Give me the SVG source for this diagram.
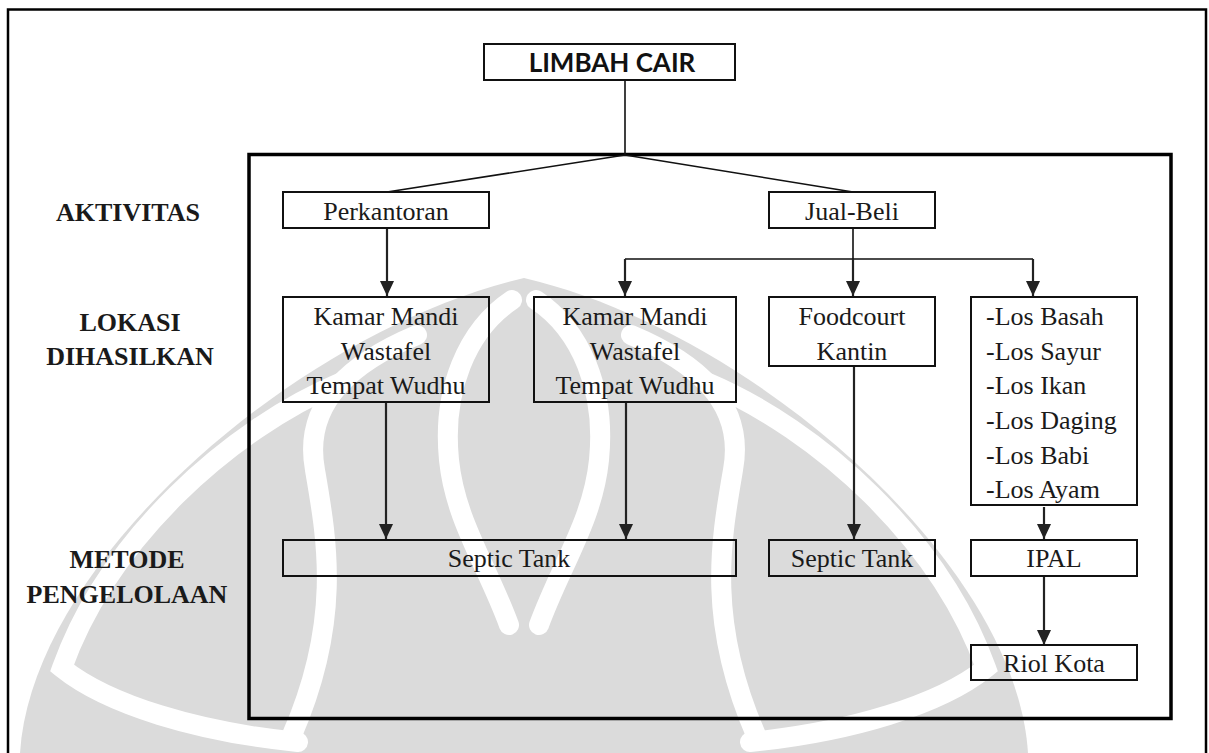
<svg xmlns="http://www.w3.org/2000/svg" width="1209" height="753" viewBox="0 0 1209 753">
  <defs>
    <style>
      .box { fill: none; stroke: #111; stroke-width: 2; }
      .t { font-size: 26px; fill: #1a1a1a; }
      .c { text-anchor: middle; }
      .lbl { font-size: 26px; font-weight: bold; fill: #1a1a1a; text-anchor: middle; }
      .head { font-size: 26px; font-weight: bold; fill: #111; text-anchor: middle; }
      .ln { fill: none; stroke: #111; stroke-width: 1.6; }
      .arr { fill: none; stroke: #222; stroke-width: 2.2; marker-end: url(#ah); }
      .wm { fill: #dbdbdb; }
      .gap { fill: none; stroke: #fff; stroke-width: 20; stroke-linecap: round; }
    </style>
    <marker id="ah" viewBox="0 0 15 14" refX="15" refY="7" markerWidth="15" markerHeight="14" markerUnits="userSpaceOnUse" orient="auto">
      <path d="M0,0 L15,7 L0,14 Z" fill="#222"/>
    </marker>
  </defs>

  <rect width="1209" height="753" fill="#fff"/>

  <!-- faint emblem in the background -->
  <g id="emblem">
    <path class="wm" d="M20,753 C32,560 300,330 524,278 C748,330 1016,560 1028,753 Z"/>
    <g id="emblem-half">
      <path class="gap" d="M342,382 C228,430 108,540 62,668 C108,705 198,732 298,742"/>
      <path class="gap" d="M417,335 C357,360 302,400 315,470 C327,540 342,620 292,735"/>
      <path class="gap" d="M512,300 C467,330 442,390 449,460 C455,520 487,565 509,625"/>
    </g>
    <use href="#emblem-half" transform="translate(1048,0) scale(-1,1)"/>
  </g>

  <!-- page frame and activity frame -->
  <rect x="8" y="9.5" width="1198" height="760" fill="none" stroke="#000" stroke-width="2.5"/>
  <rect x="249" y="154.5" width="922" height="564" fill="none" stroke="#000" stroke-width="3.5"/>

  <!-- row labels -->
  <g id="labels">
    <text class="lbl" x="128" y="221" font-family="Liberation Serif">AKTIVITAS</text>
    <text class="lbl" x="130" y="331" font-family="Liberation Serif">LOKASI</text>
    <text class="lbl" x="130" y="365" font-family="Liberation Serif">DIHASILKAN</text>
    <text class="lbl" x="127" y="568" font-family="Liberation Serif">METODE</text>
    <text class="lbl" x="127" y="603" font-family="Liberation Serif">PENGELOLAAN</text>
  </g>

  <!-- connectors -->
  <g id="connectors">
    <path class="ln" d="M625,80 V155 M625,155 L387,192 M625,155 L853,192"/>
    <path class="arr" d="M387,228 V296"/>
    <path class="ln" d="M853,228 V259 M625,259 H1033"/>
    <path class="arr" d="M625,259 V296"/>
    <path class="arr" d="M853,259 V296"/>
    <path class="arr" d="M1033,259 V296"/>
    <path class="arr" d="M386,402 V539"/>
    <path class="arr" d="M626,402 V539"/>
    <path class="arr" d="M854,366 V539"/>
    <path class="arr" d="M1044,507 V539"/>
    <path class="arr" d="M1044,576 V645"/>
  </g>

  <g id="limbah-cair">
    <rect class="box" x="484" y="44" width="251" height="36"/>
    <text class="head" x="612" y="72" font-family="Lato">LIMBAH CAIR</text>
  </g>

  <g id="nodes">
    <g id="perkantoran">
      <rect class="box" x="283" y="192" width="206" height="36"/>
      <text class="t c" x="386" y="220" font-family="Liberation Serif">Perkantoran</text>
    </g>

    <g id="jual-beli">
      <rect class="box" x="769" y="192" width="166" height="36"/>
      <text class="t c" x="852" y="220" font-family="Liberation Serif">Jual-Beli</text>
    </g>

    <g id="kamar-mandi-1">
      <rect class="box" x="283" y="297" width="206" height="105"/>
      <text class="t c" x="386" y="325" font-family="Liberation Serif">Kamar Mandi</text>
      <text class="t c" x="386" y="359.5" font-family="Liberation Serif">Wastafel</text>
      <text class="t c" x="386" y="394" font-family="Liberation Serif">Tempat Wudhu</text>
    </g>

    <g id="kamar-mandi-2">
      <rect class="box" x="534" y="297" width="202" height="105"/>
      <text class="t c" x="635" y="325" font-family="Liberation Serif">Kamar Mandi</text>
      <text class="t c" x="635" y="359.5" font-family="Liberation Serif">Wastafel</text>
      <text class="t c" x="635" y="394" font-family="Liberation Serif">Tempat Wudhu</text>
    </g>

    <g id="foodcourt">
      <rect class="box" x="769" y="297" width="166" height="69"/>
      <text class="t c" x="852" y="325" font-family="Liberation Serif">Foodcourt</text>
      <text class="t c" x="852" y="359.5" font-family="Liberation Serif">Kantin</text>
    </g>

    <g id="los">
      <rect class="box" x="971" y="297" width="166" height="208"/>
      <text class="t" x="986" y="325" font-family="Liberation Serif">-Los Basah</text>
      <text class="t" x="986" y="359.7" font-family="Liberation Serif">-Los Sayur</text>
      <text class="t" x="986" y="394.3" font-family="Liberation Serif">-Los Ikan</text>
      <text class="t" x="986" y="429" font-family="Liberation Serif">-Los Daging</text>
      <text class="t" x="986" y="463.7" font-family="Liberation Serif">-Los Babi</text>
      <text class="t" x="986" y="498.3" font-family="Liberation Serif">-Los Ayam</text>
    </g>

    <g id="septic-tank-1">
      <rect class="box" x="283" y="540" width="453" height="36"/>
      <text class="t c" x="509" y="567" font-family="Liberation Serif">Septic Tank</text>
    </g>

    <g id="septic-tank-2">
      <rect class="box" x="769" y="540" width="166" height="36"/>
      <text class="t c" x="852" y="567" font-family="Liberation Serif">Septic Tank</text>
    </g>

    <g id="ipal">
      <rect class="box" x="971" y="540" width="166" height="36"/>
      <text class="t c" x="1054" y="567" font-family="Liberation Serif">IPAL</text>
    </g>

    <g id="riol-kota">
      <rect class="box" x="971" y="645" width="166" height="35"/>
      <text class="t c" x="1054" y="672" font-family="Liberation Serif">Riol Kota</text>
    </g>
  </g>
</svg>
